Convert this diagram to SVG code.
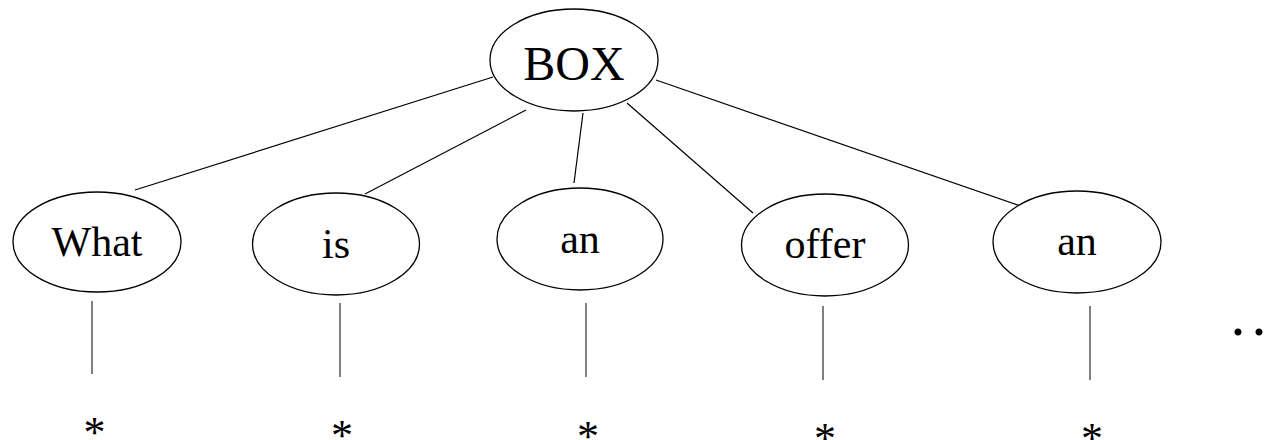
<svg xmlns="http://www.w3.org/2000/svg" width="1276" height="440" viewBox="0 0 1276 440">
<style>
.node ellipse{fill:#fff;stroke:#000;stroke-width:1.3}
.edge{stroke:#000;stroke-width:1.2;fill:none}
.stem{stroke:#000;stroke-width:1;fill:none}
</style>
<rect width="1276" height="440" fill="#fff"/>
<g id="connectors">
<line class="edge" x1="493" y1="77" x2="135" y2="190"/>
<line class="edge" x1="526" y1="110" x2="365" y2="194"/>
<line class="edge" x1="583" y1="113" x2="574" y2="183"/>
<line class="edge" x1="627" y1="103" x2="753" y2="213"/>
<line class="edge" x1="656" y1="80" x2="1035" y2="211"/>
<line class="stem" x1="92" y1="301" x2="92" y2="374"/>
<line class="stem" x1="340" y1="303" x2="340" y2="377"/>
<line class="stem" x1="586" y1="303" x2="586" y2="377"/>
<line class="stem" x1="823" y1="306" x2="823" y2="380"/>
<line class="stem" x1="1090" y1="306" x2="1090" y2="380"/>
</g>
<g id="node-box" class="node">
<ellipse cx="574" cy="60" rx="84" ry="51"/>
<text x="574" y="80" font-family="Liberation Serif" font-size="48" text-anchor="middle">BOX</text>
</g>
<g id="node-what" class="node">
<ellipse cx="97" cy="242" rx="84" ry="50"/>
<text x="97" y="256" font-family="Liberation Serif" font-size="42" text-anchor="middle">What</text>
</g>
<g id="node-is" class="node">
<ellipse cx="336" cy="244" rx="83.5" ry="51"/>
<text x="336" y="258" font-family="Liberation Serif" font-size="42" text-anchor="middle">is</text>
</g>
<g id="node-an1" class="node">
<ellipse cx="580" cy="239" rx="83" ry="51"/>
<text x="580" y="253" font-family="Liberation Serif" font-size="42" text-anchor="middle">an</text>
</g>
<g id="node-offer" class="node">
<ellipse cx="825" cy="245" rx="83.5" ry="51"/>
<text x="825" y="258" font-family="Liberation Serif" font-size="42" text-anchor="middle">offer</text>
</g>
<g id="node-an2" class="node">
<ellipse cx="1077" cy="242" rx="84" ry="51"/>
<text x="1077" y="255" font-family="Liberation Serif" font-size="42" text-anchor="middle">an</text>
</g>
<g id="leaves">
<text x="94.5" y="447" font-family="Liberation Serif" font-size="44" text-anchor="middle">*</text>
<text x="342" y="450" font-family="Liberation Serif" font-size="44" text-anchor="middle">*</text>
<text x="588" y="451" font-family="Liberation Serif" font-size="44" text-anchor="middle">*</text>
<text x="825" y="453" font-family="Liberation Serif" font-size="44" text-anchor="middle">*</text>
<text x="1092" y="453" font-family="Liberation Serif" font-size="44" text-anchor="middle">*</text>
</g>
<text x="1230.5" y="335" font-family="Liberation Serif" font-size="60" letter-spacing="6">...</text>
</svg>
